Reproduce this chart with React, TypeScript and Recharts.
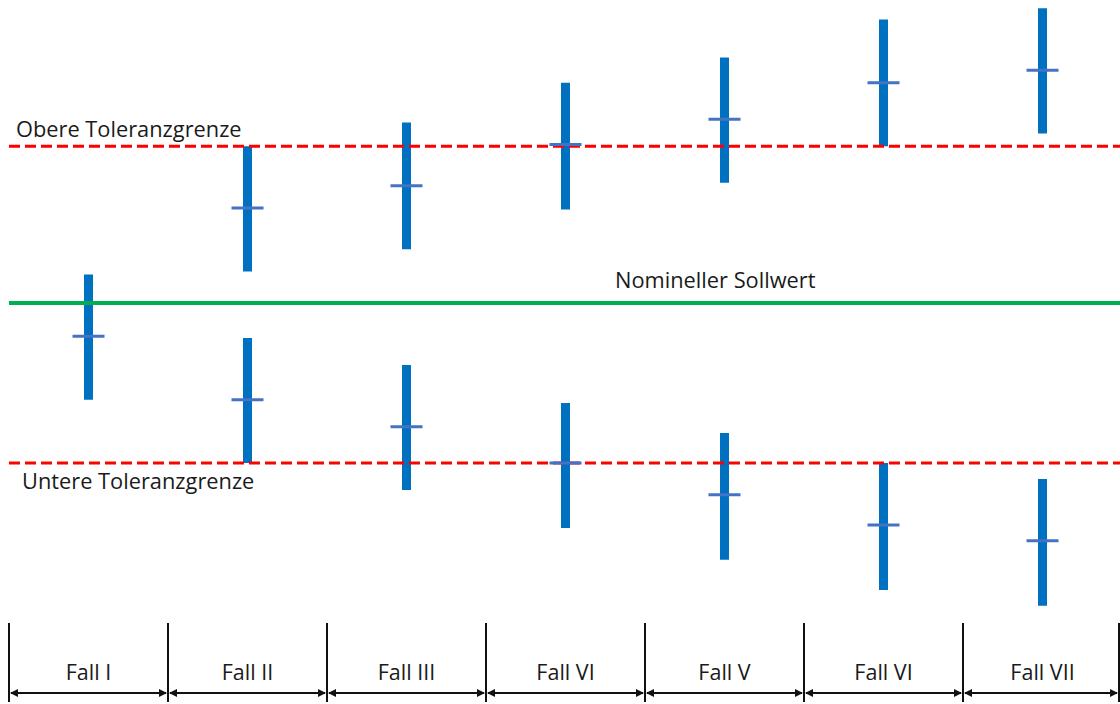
import React from 'react';
import { ComposedChart, Bar, Scatter, XAxis, YAxis, ReferenceLine } from 'recharts';

const categories = ['Fall I', 'Fall II', 'Fall III', 'Fall VI', 'Fall V', 'Fall VI', 'Fall VII'];
const upperMid = [null, 0.6, 0.74, 1.0, 1.16, 1.39, 1.47];
const upperLow = [null, 0.2, 0.34, 0.59, 0.76, 0.99, 1.07];
const upperHigh = [null, 0.99, 1.14, 1.39, 1.55, 1.79, 1.86];
const lowerMid = [-0.21, -0.61, -0.78, -1.01, -1.21, -1.4, -1.5];
const lowerLow = [-0.61, -1.01, -1.18, -1.42, -1.62, -1.81, -1.91];
const lowerHigh = [0.18, -0.22, -0.39, -0.63, -0.82, -1.01, -1.11];
const upperTolerance = 0.99;
const nominal = 0;
const lowerTolerance = -1.01;
const yDomain = [-2, 1.9];

const data = categories.map((name, i) => ({
  idx: i,
  name,
  upperRange: upperLow[i] == null ? null : [upperLow[i], upperHigh[i]],
  lowerRange: [lowerLow[i], lowerHigh[i]],
  upperMid: upperMid[i],
  lowerMid: lowerMid[i],
}));

const FONT = '"Open Sans", sans-serif';
const TEXT = '#1a1a1a';
const CHART_W = 1122;
const CHART_H = 704;
const M_LEFT = 9;
const HALF = (CHART_W - M_LEFT) / categories.length / 2;

const CategoryTick = (props: any) => {
  const { x, y, payload, index } = props;
  const label = categories[payload.value];
  const left = x - HALF;
  const right = Math.min(x + HALF, 1119);
  const top = y + 3;
  const bottom = y + 82;
  const ay = y + 73;
  const isLast = index === categories.length - 1;
  return (
    <g>
      <line x1={left} x2={left} y1={top} y2={bottom} stroke="#111" strokeWidth={2} />
      {isLast && <line x1={right} x2={right} y1={top} y2={bottom} stroke="#111" strokeWidth={2} />}
      <line x1={left + 2} x2={right - 2} y1={ay} y2={ay} stroke="#111" strokeWidth={2} />
      <polygon points={`${left + 1},${ay} ${left + 9},${ay - 4} ${left + 9},${ay + 4}`} fill="#111" />
      <polygon points={`${right - 1},${ay} ${right - 9},${ay - 4} ${right - 9},${ay + 4}`} fill="#111" />
      <text x={x} y={y + 60} textAnchor="middle" fontFamily={FONT} fontSize={21.5} fill={TEXT}>
        {label}
      </text>
    </g>
  );
};

const makeMid = (key: string) => (props: any) => {
  const { cx, cy, payload } = props;
  if (!payload || payload[key] == null || cy == null || isNaN(cy)) return <g />;
  return <line x1={cx - 16} x2={cx + 16} y1={cy} y2={cy} stroke="#4472C4" strokeWidth={3} />;
};

const lineLabel = (text: string, dx: number, dy: number) => (p: any) => {
  const vb = p.viewBox || {};
  return (
    <text x={vb.x + dx} y={vb.y + dy} fontFamily={FONT} fontSize={21.8} fill={TEXT}>
      {text}
    </text>
  );
};

export default function App() {
  return (
    <div style={{ position: 'fixed', left: 0, top: 0, width: 1120, height: 704, overflow: 'hidden', background: '#fff' }}>
      <ComposedChart
        width={CHART_W}
        height={CHART_H}
        data={data}
        margin={{ top: 2, right: 0, bottom: 0, left: M_LEFT }}
        barGap={-9}
      >
        <XAxis
          dataKey="idx"
          type="category"
          axisLine={false}
          tickLine={false}
          tickSize={0}
          tickMargin={0}
          height={84}
          interval={0}
          tick={<CategoryTick />}
        />
        <YAxis type="number" domain={yDomain} hide allowDataOverflow />
        <ReferenceLine
          y={upperTolerance}
          stroke="#FF0000"
          strokeWidth={3}
          strokeDasharray="11 5"
          label={lineLabel('Obere Toleranzgrenze', 7, -9)}
        />
        <ReferenceLine
          y={nominal}
          stroke="#00B050"
          strokeWidth={4}
          label={lineLabel('Nomineller Sollwert', 606, -15)}
        />
        <ReferenceLine
          y={lowerTolerance}
          stroke="#FF0000"
          strokeWidth={3}
          strokeDasharray="11 5"
          label={lineLabel('Untere Toleranzgrenze', 13, 26)}
        />
        <Bar dataKey="upperRange" fill="#0070C0" barSize={9} isAnimationActive={false} />
        <Bar dataKey="lowerRange" fill="#0070C0" barSize={9} isAnimationActive={false} />
        <Scatter dataKey="upperMid" shape={makeMid('upperMid')} isAnimationActive={false} />
        <Scatter dataKey="lowerMid" shape={makeMid('lowerMid')} isAnimationActive={false} />
      </ComposedChart>
    </div>
  );
}
